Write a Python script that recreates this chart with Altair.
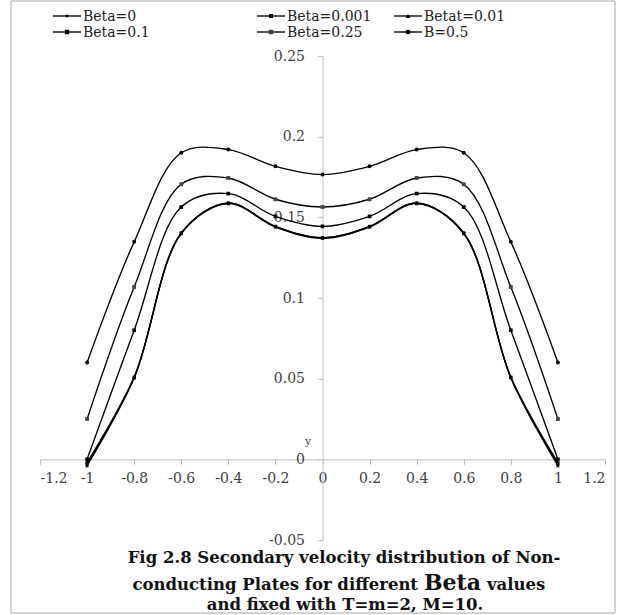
import altair as alt
import pandas as pd

# ---------------- data ----------------
x_pos = [-1, -0.8, -0.6, -0.4, -0.2, 0, 0.2, 0.4, 0.6, 0.8, 1]
series_names = ["Beta=0", "Beta=0.001", "Betat=0.01", "Beta=0.1", "Beta=0.25", "B=0.5"]
beta_0    = [-0.002, 0.0510, 0.1404, 0.1589, 0.1444, 0.1374, 0.1444, 0.1589, 0.1404, 0.0510, -0.002]
beta_0001 = [-0.003, 0.0508, 0.1402, 0.1588, 0.1443, 0.1373, 0.1443, 0.1588, 0.1402, 0.0508, -0.003]
beta_001  = [-0.004, 0.0504, 0.1398, 0.1585, 0.1440, 0.1370, 0.1440, 0.1585, 0.1398, 0.0504, -0.004]
beta_01   = [0.000, 0.0800, 0.1564, 0.1647, 0.1506, 0.1444, 0.1506, 0.1647, 0.1564, 0.0800, 0.000]
beta_025  = [0.025, 0.1068, 0.1705, 0.1744, 0.1612, 0.1564, 0.1612, 0.1744, 0.1705, 0.1068, 0.025]
b_05      = [0.060, 0.1348, 0.1900, 0.1920, 0.1816, 0.1765, 0.1816, 0.1920, 0.1900, 0.1348, 0.060]
all_values = [beta_0, beta_0001, beta_001, beta_01, beta_025, b_05]

x_ticks = [-1.2, -1, -0.8, -0.6, -0.4, -0.2, 0, 0.2, 0.4, 0.6, 0.8, 1, 1.2]
y_ticks = [-0.05, 0, 0.05, 0.1, 0.15, 0.2, 0.25]

caption_1 = "Fig 2.8 Secondary velocity distribution of Non-"
caption_2a = "conducting Plates for different"
caption_2b = "Beta"
caption_2c = "values"
caption_3 = "and fixed with T=m=2, M=10."

# ---------------- styles ----------------
marker_shapes = ["circle", "square", "triangle-up", "square", "square", "circle"]
marker_sizes = [10, 16, 20, 20, 20, 22]
marker_fills = ["black", "black", "black", "black", "#444444", "black"]

rows = []
for name, vals in zip(series_names, all_values):
    for xv, yv in zip(x_pos, vals):
        rows.append({"series": name, "x": xv, "v": yv})
df = pd.DataFrame(rows)

W, H = 565, 484
x_dom = [-1.2, 1.2]
y_dom = [-0.05, 0.25]
x_axis_offset = -(0 - y_dom[0]) / (y_dom[1] - y_dom[0]) * H
y_axis_offset = -(0 - x_dom[0]) / (x_dom[1] - x_dom[0]) * W

lbl_expr = "datum.value < 0 ? '-' + format(-datum.value, '~g') : format(datum.value, '~g')"
axis_common = dict(
    grid=False, title=None, domainColor="#bfbfbf", tickColor="#bfbfbf",
    labelFont="DejaVu Serif", labelFontSize=14, labelColor="#404040",
    tickSize=5, labelExpr=lbl_expr, labelOverlap=False,
)

xenc = alt.X("x:Q", scale=alt.Scale(domain=x_dom, nice=False, zero=False),
             axis=alt.Axis(values=x_ticks, offset=x_axis_offset, labelPadding=7, **axis_common))
yenc = alt.Y("v:Q", scale=alt.Scale(domain=y_dom, nice=False, zero=False),
             axis=alt.Axis(values=y_ticks, offset=y_axis_offset, labelPadding=13, **axis_common))

base = alt.Chart(df)
lines = base.mark_line(interpolate="catmull-rom", color="black", strokeWidth=1.35).encode(
    x=xenc, y=yenc, detail="series:N", order="x:Q"
)
points = base.mark_point(filled=True, opacity=1, strokeWidth=0).encode(
    x=xenc, y=yenc,
    shape=alt.Shape("series:N", scale=alt.Scale(domain=series_names, range=marker_shapes), legend=None),
    size=alt.Size("series:O", scale=alt.Scale(domain=series_names, range=marker_sizes), legend=None),
    color=alt.Color("series:N", scale=alt.Scale(domain=series_names, range=marker_fills), legend=None),
)

layers = [lines, points]
one = pd.DataFrame({"a": [0]})

# ---------------- legend (custom, 3 columns x 2 rows) ----------------
col_left = [13, 217, 354]
row_y = [-40, -24]
seg_len = 28
for i, name in enumerate(series_names):
    c, r = i % 3, i // 3
    x0 = col_left[c]
    y0 = row_y[r]
    layers.append(alt.Chart(one).mark_rule(color="black", strokeWidth=1.35).encode(
        x=alt.value(x0), x2=alt.value(x0 + seg_len), y=alt.value(y0)))
    layers.append(alt.Chart(one).mark_point(filled=True, opacity=1, strokeWidth=0,
                                             color=marker_fills[i]).encode(
        x=alt.value(x0 + seg_len / 2), y=alt.value(y0),
        shape=alt.value(marker_shapes[i]), size=alt.value(marker_sizes[i])))
    layers.append(alt.Chart(one).mark_text(align="left", baseline="middle", font="DejaVu Serif",
                                            fontSize=14, color="#222222").encode(
        x=alt.value(x0 + seg_len + 2), y=alt.value(y0 + 1), text=alt.value(name)))

# small axis label "y"
layers.append(alt.Chart(one).mark_text(align="center", baseline="middle", font="DejaVu Serif",
                                        fontSize=11, color="#404040").encode(
    x=alt.value(268), y=alt.value(386), text=alt.value("y")))

# ---------------- caption ----------------
cap_font = dict(font="DejaVu Serif", fontWeight="bold", color="#111111", baseline="alphabetic")
layers.append(alt.Chart(one).mark_text(align="center", fontSize=16.5, **cap_font).encode(
    x=alt.value(304), y=alt.value(507), text=alt.value(caption_1)))
layers.append(alt.Chart(one).mark_text(align="right", fontSize=16.5, **cap_font).encode(
    x=alt.value(378), y=alt.value(534), text=alt.value(caption_2a)))
layers.append(alt.Chart(one).mark_text(align="left", fontSize=22, **cap_font).encode(
    x=alt.value(384), y=alt.value(534), text=alt.value(caption_2b)))
layers.append(alt.Chart(one).mark_text(align="left", fontSize=16.5, **cap_font).encode(
    x=alt.value(447), y=alt.value(534), text=alt.value(caption_2c)))
layers.append(alt.Chart(one).mark_text(align="center", fontSize=16.5, **cap_font).encode(
    x=alt.value(305), y=alt.value(554), text=alt.value(caption_3)))

# ---------------- outer frame ----------------
layers.append(alt.Chart(one).mark_rect(fillOpacity=0, stroke="#a6a6a6", strokeWidth=1).encode(
    x=alt.value(-29), x2=alt.value(575), y=alt.value(-55), y2=alt.value(557)))

chart = alt.layer(*layers).properties(
    width=W, height=H,
    autosize=alt.AutoSizeParams(type="none"),
    padding={"left": 40, "top": 56, "right": 16, "bottom": 75},
    background="white",
).configure_view(stroke=None)

chart.save("out.html", embed_options={"renderer": "svg", "actions": False})
